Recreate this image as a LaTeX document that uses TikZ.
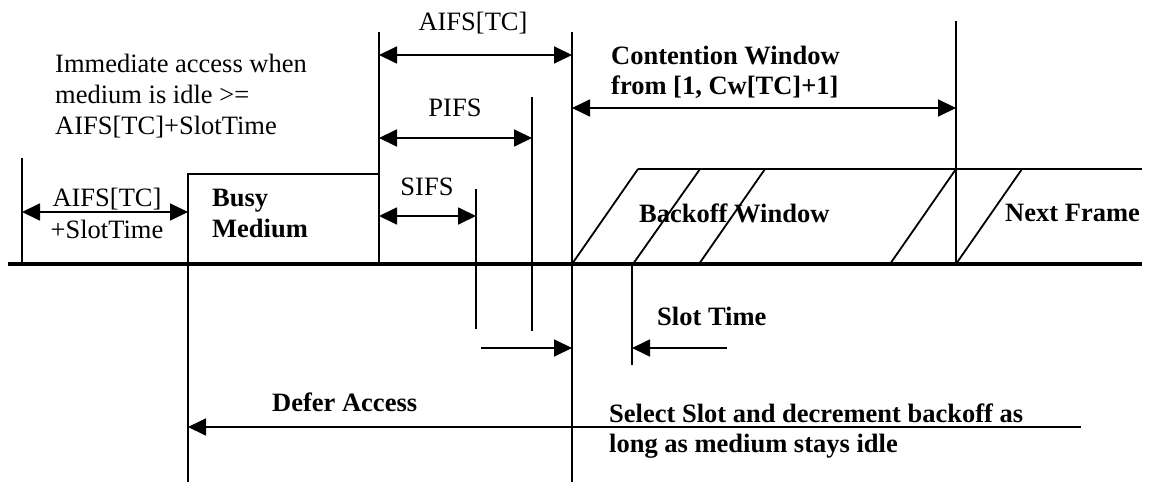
\documentclass[tikz,border=0pt]{standalone}
\usepackage{fontspec}
\setmainfont{Liberation Serif}
\usetikzlibrary{arrows.meta}
\tikzset{
  vline/.style={line width=1.8pt},
  mediumline/.style={line width=4pt},
  tip/.tip={Triangle[length=18pt,width=17pt]},
  dbl/.style={vline, tip-tip},
  rarr/.style={vline, -tip},
  lbl/.style={inner sep=0pt, font=\fontsize{26.5}{31}\selectfont},
  blbl/.style={inner sep=0pt, font=\fontsize{26.5}{31}\selectfont\bfseries},
}
\begin{document}
\begin{tikzpicture}[x=1pt,y=-1pt]
\useasboundingbox (0,0) rectangle (1150,489);
% medium baseline
\coordinate (m0) at (8,264); \coordinate (m1) at (1142,264);
\draw[mediumline] (m0) -- (m1);
% vertical markers
\coordinate (v22t) at (22,158);  \coordinate (v22b) at (22,264);
\coordinate (v188t) at (188,174); \coordinate (v188b) at (188,482);
\coordinate (v379t) at (379,32);  \coordinate (v379b) at (379,264);
\coordinate (v476t) at (476,189); \coordinate (v476b) at (476,329);
\coordinate (v532t) at (532,97);  \coordinate (v532b) at (532,331);
\coordinate (v572t) at (572,32);  \coordinate (v572b) at (572,482);
\coordinate (v632t) at (632,264); \coordinate (v632b) at (632,365);
\coordinate (v956t) at (956,21);  \coordinate (v956b) at (956,264);
\coordinate (busyTR) at (379,174);
\draw[vline] (v22t) -- (v22b);
\draw[vline] (v188b) -- (v188t) -- (busyTR);
\draw[vline] (v379t) -- (v379b);
\draw[vline] (v476t) -- (v476b);
\draw[vline] (v532t) -- (v532b);
\draw[vline] (v572t) -- (v572b);
\draw[vline] (v632t) -- (v632b);
\draw[vline] (v956t) -- (v956b);
% backoff window / next frame
\coordinate (bwT0) at (638,169); \coordinate (bwT1) at (1142,169);
\draw[vline] (bwT0) -- (bwT1);
\coordinate (s1b) at (572,264); \coordinate (s1t) at (638,169);
\coordinate (s2b) at (633,264); \coordinate (s2t) at (700,169);
\coordinate (s3b) at (699,264); \coordinate (s3t) at (765,169);
\coordinate (s4b) at (890,264); \coordinate (s4t) at (956,169);
\coordinate (s5b) at (956,264); \coordinate (s5t) at (1022,169);
\foreach \s in {1,...,5} {\draw[vline] (s\s b) -- (s\s t);}
% arrows
\coordinate (a1l) at (22,212);  \coordinate (a1r) at (188,212);
\coordinate (a2l) at (379,55);  \coordinate (a2r) at (572,55);
\coordinate (a3l) at (379,138); \coordinate (a3r) at (532,138);
\coordinate (a4l) at (379,216); \coordinate (a4r) at (476,216);
\coordinate (a5l) at (572,108); \coordinate (a5r) at (956,108);
\coordinate (a6s) at (481,348); \coordinate (a6e) at (572,348);
\coordinate (a7s) at (727,348); \coordinate (a7e) at (632,348);
\coordinate (a8s) at (1081,427); \coordinate (a8e) at (188,427);
\draw[dbl] (a1l) -- (a1r);
\draw[dbl] (a2l) -- (a2r);
\draw[dbl] (a3l) -- (a3r);
\draw[dbl] (a4l) -- (a4r);
\draw[dbl] (a5l) -- (a5r);
\draw[rarr] (a6s) -- (a6e);
\draw[rarr] (a7s) -- (a7e);
\draw[rarr] (a8s) -- (a8e);
% labels
\node[lbl, anchor=base west] (im1) at (55,73) {Immediate access when};
\node[lbl, anchor=base west] (im2) at (55,104) {medium is idle >=};
\node[lbl, anchor=base west] (im3) at (55,135) {AIFS[TC]+SlotTime};
\node[lbl, anchor=base] (aifstop) at (473,31) {AIFS[TC]};
\node[lbl, anchor=base] (pifs) at (455,117) {PIFS};
\node[lbl, anchor=base] (sifs) at (427,196) {SIFS};
\node[lbl, anchor=base] (aifsl) at (107,206) {AIFS[TC]};
\node[lbl, anchor=base] (slotl) at (107,238) {+SlotTime};
\node[blbl, anchor=base west] (busy) at (212,206) {Busy};
\node[blbl, anchor=base west] (medium) at (212,237) {Medium};
\node[blbl, anchor=base west] (cw1) at (611,65) {Contention Window};
\node[blbl, anchor=base west] (cw2) at (611,95) {from [1, Cw[TC]+1]};
\node[blbl, anchor=base west] (bow) at (639,222) {Backoff Window};
\node[blbl, anchor=base west] (nf) at (1005,221) {Next Frame};
\node[blbl, anchor=base west] (st) at (657,325) {Slot Time};
\node[blbl, anchor=base west] (da) at (272,411) {Defer Access};
\node[blbl, anchor=base west] (ss1) at (609,422) {Select Slot and decrement backoff as};
\node[blbl, anchor=base west] (ss2) at (609,452) {long as medium stays idle};
\end{tikzpicture}
\end{document}
